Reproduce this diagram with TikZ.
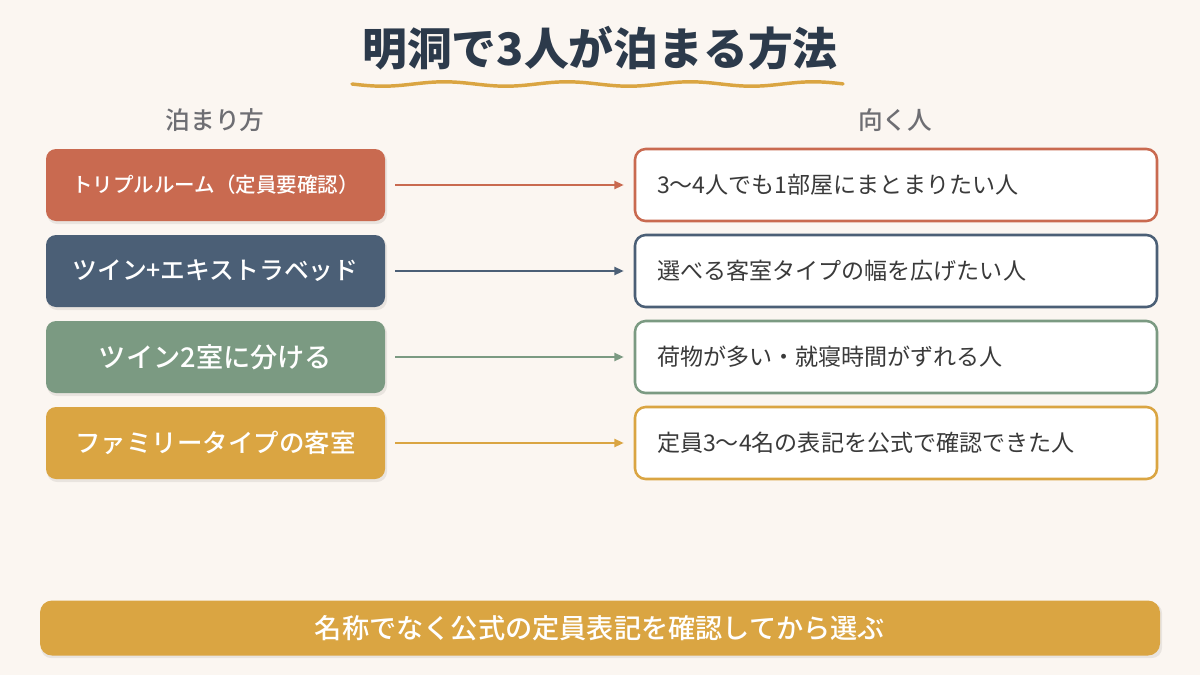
\documentclass[tikz,border=0pt]{standalone}
\usepackage{fontspec}
\setmainfont{Noto Sans CJK JP}
\newfontfamily\medfont{Noto Sans CJK JP Medium}
\usetikzlibrary{arrows.meta}
\definecolor{bg}{HTML}{FBF6F1}
\definecolor{titlec}{HTML}{2C3A4B}
\definecolor{headc}{HTML}{6E6E73}
\definecolor{textc}{HTML}{3A3A3A}
\definecolor{cA}{HTML}{C96A50}
\definecolor{cB}{HTML}{4B5F76}
\definecolor{cC}{HTML}{7B9A82}
\definecolor{cD}{HTML}{DAA542}
\tikzset{
  leftbox/.style={rounded corners=7.5pt, minimum width=254.25pt, minimum height=54pt,
    inner sep=0pt, text=white, font=\medfont\fontsize{19.5}{22}\selectfont},
  rightbox/.style={rounded corners=8pt, draw=#1, fill=white, line width=1.9pt,
    text width=358.5pt, inner xsep=16.5pt, inner ysep=0pt, minimum height=54pt,
    align=left, text=textc, font=\fontsize{17.3}{20}\selectfont},
  conn/.style={draw=#1, line width=1.5pt, shorten <=7.5pt, shorten >=7.5pt,
    -{Triangle[length=7pt,width=6pt]}},
  shadowbox/.style={fill=black, opacity=0.07, rounded corners=7.5pt},
  header/.style={text=headc, font=\medfont\fontsize{18.5}{20}\selectfont}
}
\begin{document}
\begin{tikzpicture}[x=0.75pt,y=-0.75pt]
\fill[bg] (0,0) rectangle (1200,675);
\useasboundingbox (0,0) rectangle (1200,675);

% title
\node[text=titlec, font=\bfseries\fontsize{33.6}{36}\selectfont] (title) at (600,48) {明洞で3人が泊まる方法};
\draw[cD, line width=2.6pt, line cap=round] plot[domain=352:843, samples=120, smooth] (\x, {84+2.2*sin((\x-352)*2.927)});

% headers
\node[header] (h1) at (215,120) {泊まり方};
\node[header] (h2) at (895,120) {向く人};

% shadows
\foreach \yc in {185,271,357,443}{
  \fill[shadowbox] (47,\yc-34) rectangle (387,\yc+39);
}
\fill[shadowbox] (41,603) rectangle (1162,658);

% left boxes
\node[leftbox, fill=cA, font=\medfont\fontsize{15.4}{18}\selectfont] (L1) at (215.5,185) {トリプルルーム（定員要確認）};
\node[leftbox, fill=cB, font=\medfont\fontsize{18.6}{22}\selectfont] (L2) at (215.5,271) {ツイン+エキストラベッド};
\node[leftbox, fill=cC, font=\medfont\fontsize{20.4}{22}\selectfont] (L3) at (215.5,357) {ツイン2室に分ける};
\node[leftbox, fill=cD, font=\medfont\fontsize{19.1}{22}\selectfont] (L4) at (215.5,443) {ファミリータイプの客室};

% right boxes
\node[rightbox=cA] (R1) at (896,185) {3〜4人でも1部屋にまとまりたい人};
\node[rightbox=cB] (R2) at (896,271) {選べる客室タイプの幅を広げたい人};
\node[rightbox=cC] (R3) at (896,357) {荷物が多い・就寝時間がずれる人};
\node[rightbox=cD] (R4) at (896,443) {定員3〜4名の表記を公式で確認できた人};

% connectors
\draw[conn=cA] (L1.east) -- (R1.west);
\draw[conn=cB] (L2.east) -- (R2.west);
\draw[conn=cC] (L3.east) -- (R3.west);
\draw[conn=cD] (L4.east) -- (R4.west);

% bottom bar
\node[fill=cD, rounded corners=9pt, minimum width=840pt, minimum height=41.25pt, inner sep=0pt,
  text=white, font=\medfont\fontsize{20.4}{22}\selectfont] (bar) at (600,628) {名称でなく公式の定員表記を確認してから選ぶ};
\end{tikzpicture}
\end{document}
